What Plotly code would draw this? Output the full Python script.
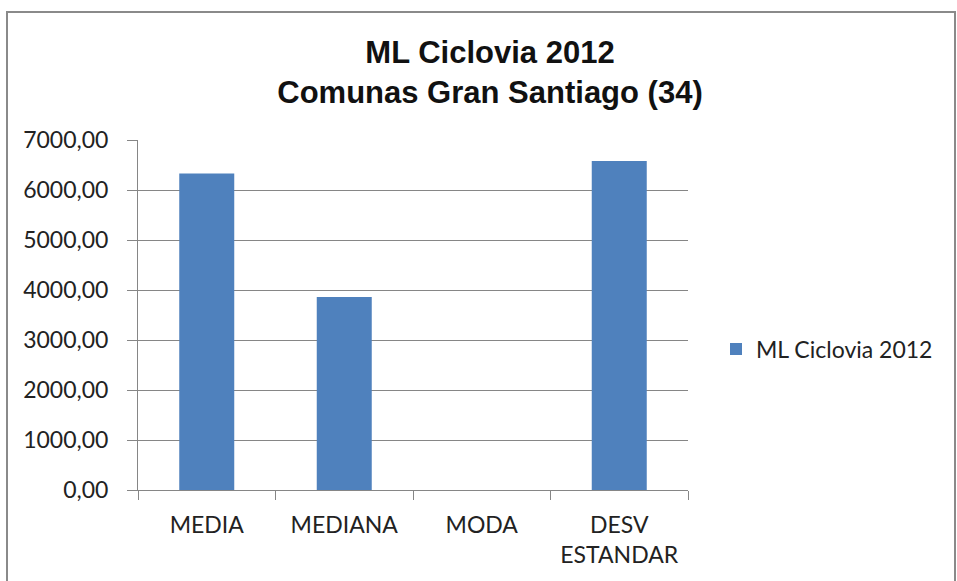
import plotly.graph_objects as go

categories = ["MEDIA", "MEDIANA", "MODA", "DESV<br>ESTANDAR"]
values = [6330, 3860, 0, 6580]
series_name = "ML Ciclovia 2012"
title_lines = ["ML Ciclovia 2012", "Comunas Gran Santiago (34)"]
y_ticks = [0, 1000, 2000, 3000, 4000, 5000, 6000, 7000]

L, R, T, B = 138, 269, 140, 91
W, H = 957, 581
pw = W - L - R
ph = H - T - B

def px_x(p):
    return (p - L) / pw

def px_y(p):
    return (H - B - p) / ph

fig = go.Figure()
fig.add_trace(go.Bar(
    x=categories, y=values, name=series_name,
    marker=dict(color="#4F81BD", line=dict(width=0)),
    showlegend=True,
))

axis_font = dict(family="Lato, Carlito, sans-serif", size=23, color="#222222")

fig.update_layout(
    width=W, height=H,
    margin=dict(l=L, r=R, t=T, b=B),
    paper_bgcolor="white", plot_bgcolor="white",
    separators=",.",
    bargap=0.6,
    title=dict(
        text="<b>" + "<br>".join(title_lines) + "</b>",
        x=px_x(490), xref="paper", xanchor="center",
        y=1 - 71 / H, yanchor="middle",
        font=dict(family="Liberation Sans, Arial, sans-serif", size=31, color="#111111"),
    ),
    xaxis=dict(
        showline=True, linecolor="#868686", linewidth=1,
        ticks="outside", ticklen=9, tickcolor="#868686",
        tickson="boundaries", tickfont=axis_font,
        ticklabelstandoff=14,
        showgrid=False,
    ),
    yaxis=dict(
        range=[0, 7000], tickvals=y_ticks, tickformat=".2f",
        showline=True, linecolor="#868686", linewidth=1,
        ticks="outside", ticklen=10, tickcolor="#868686",
        ticklabelstandoff=14,
        showgrid=True, gridcolor="#868686", gridwidth=1,
        zeroline=False, tickfont=axis_font,
    ),
    legend=dict(
        x=px_x(716), y=px_y(349), xanchor="left", yanchor="middle",
        font=axis_font, bgcolor="rgba(0,0,0,0)",
    ),
    shapes=[
        dict(type="rect", xref="paper", yref="paper",
             x0=px_x(7), x1=px_x(955), y0=px_y(590), y1=px_y(12),
             line=dict(color="#8a8a8a", width=2), fillcolor="rgba(0,0,0,0)", layer="below"),
    ],
)
fig.update_layout(title_y=1 - 63 / H)

fig.write_html("out.html", config={"displayModeBar": False},
               post_script="document.body.style.margin='0';document.body.style.overflow='hidden';")
